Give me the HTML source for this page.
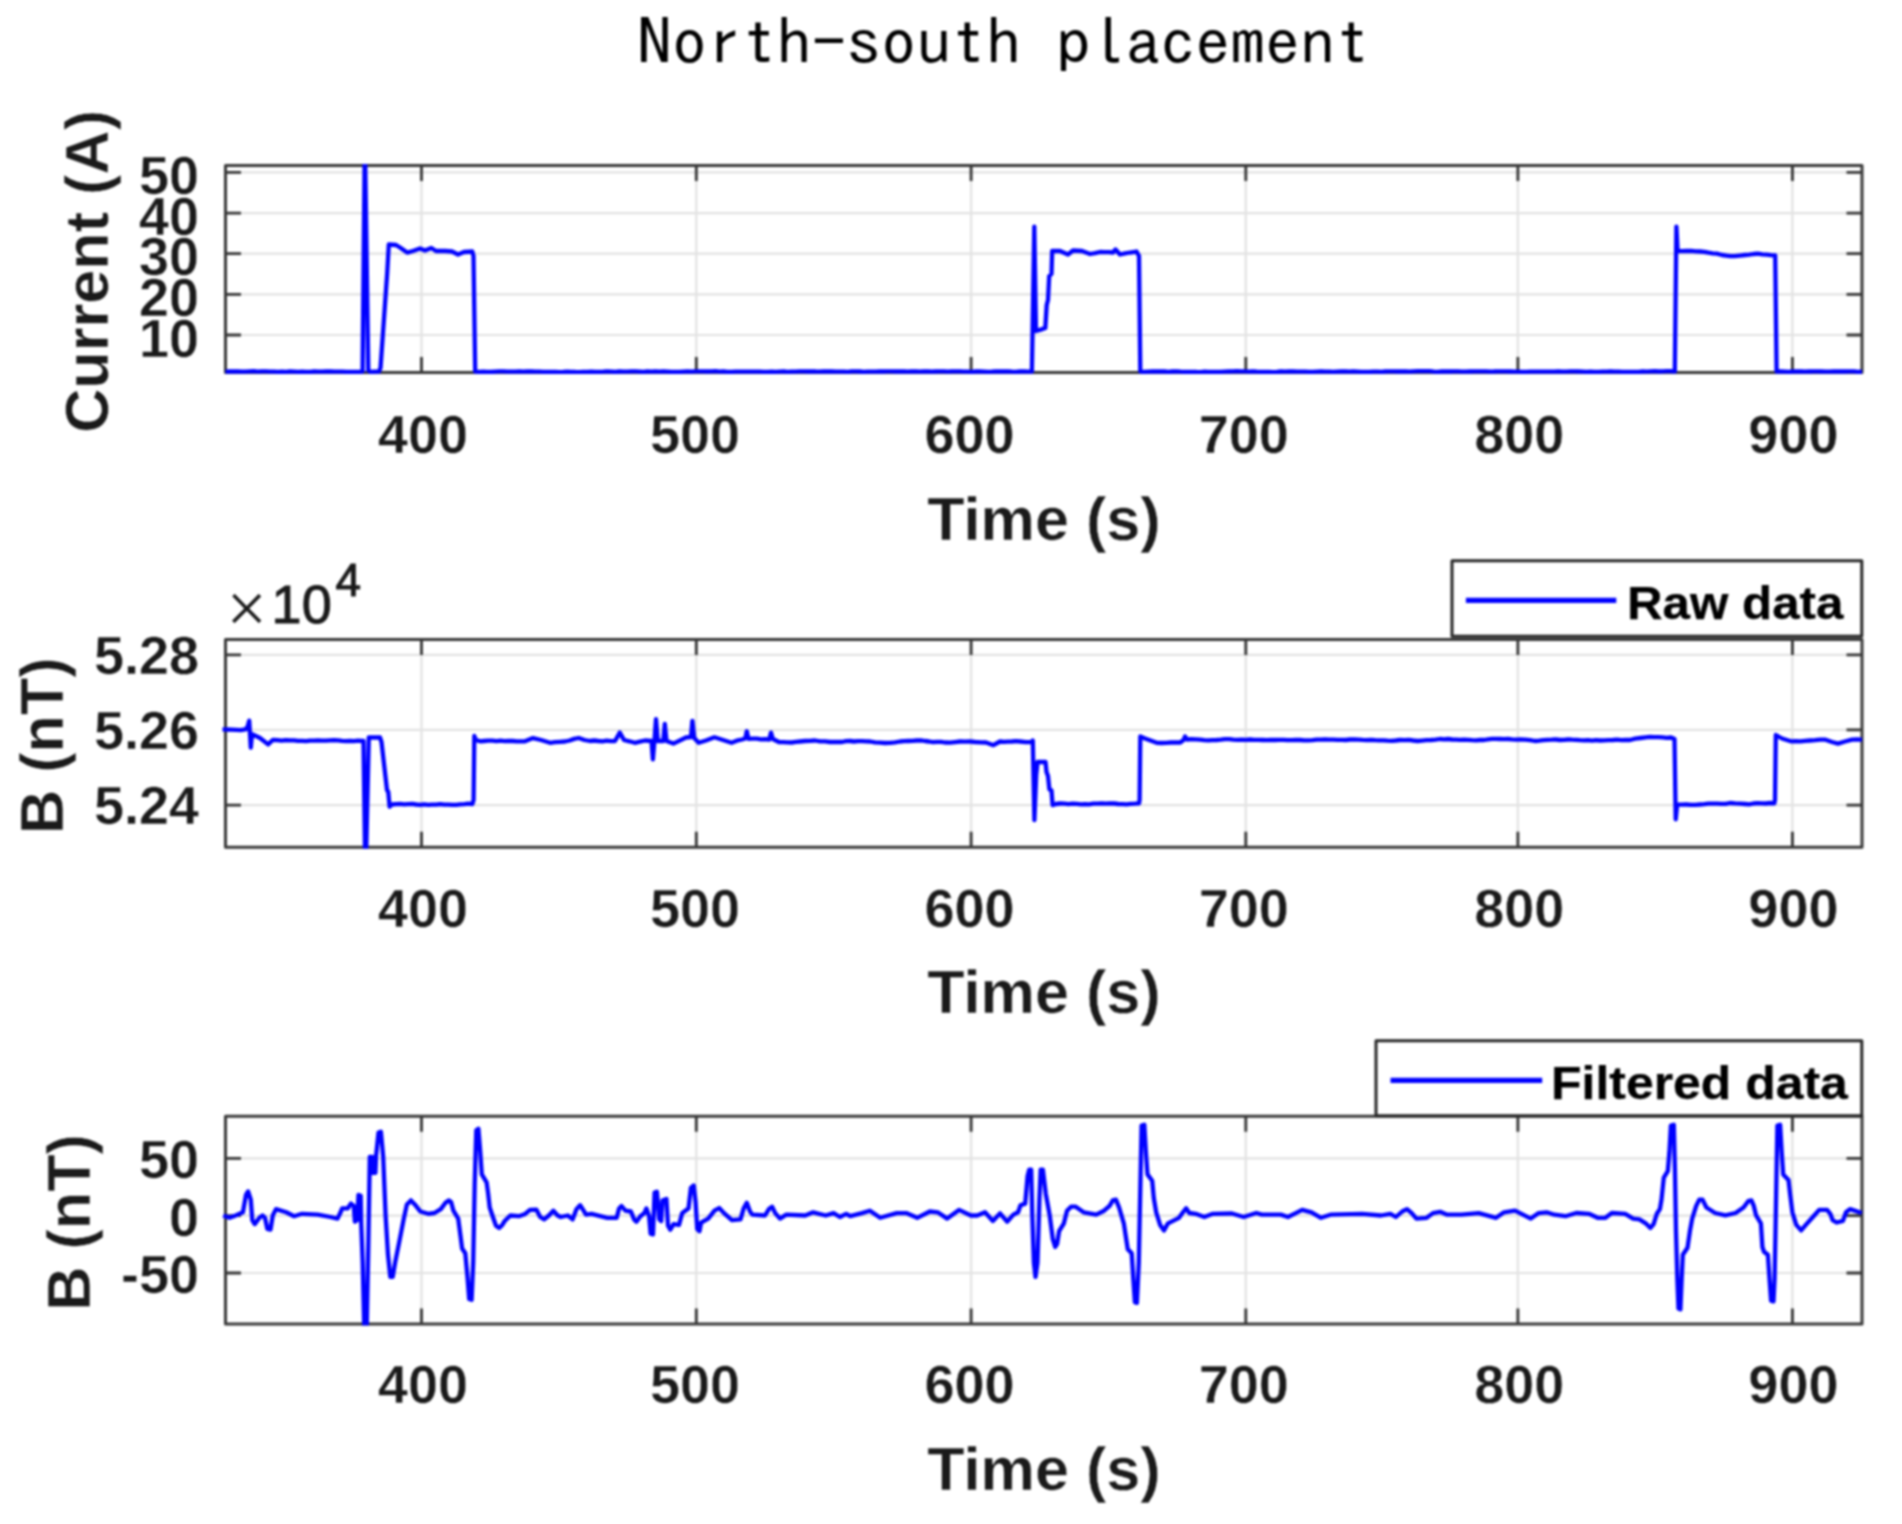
<!DOCTYPE html>
<html lang="en">
<head>
<meta charset="utf-8">
<title>North-south placement</title>
<style>
html,body{margin:0;padding:0;background:#ffffff;}
body{width:1902px;height:1524px;overflow:hidden;}
svg{display:block;font-family:"Liberation Sans", sans-serif;filter:blur(0.9px);}
svg text{font-family:"Liberation Sans", sans-serif;}
svg text.t{stroke:#ffffff;stroke-width:0.5px;}
</style>
</head>
<body>
<svg width="1902" height="1524" viewBox="0 0 1902 1524">
<defs>
<clipPath id="c0"><rect x="219.5" y="164.1" width="1644.0" height="209.79999999999998"/></clipPath>
<clipPath id="c1"><rect x="219.5" y="637.9" width="1644.0" height="210.89999999999998"/></clipPath>
<clipPath id="c2"><rect x="219.5" y="1114.8" width="1644.0" height="210.70000000000005"/></clipPath>
</defs>
<rect width="1902" height="1524" fill="#ffffff"/>
<path d="M421.5 165.6V372.4M696.3 165.6V372.4M971.1 165.6V372.4M1245.8 165.6V372.4M1517.9 165.6V372.4M1792.4 165.6V372.4M225.5 172.4H1862.0M225.5 213.1H1862.0M225.5 253.7H1862.0M225.5 294.4H1862.0M225.5 335.0H1862.0" stroke="#e2e2e2" stroke-width="2.2" fill="none"/>
<path d="M421.5 372.4v-15.5M421.5 165.6v15.5M696.3 372.4v-15.5M696.3 165.6v15.5M971.1 372.4v-15.5M971.1 165.6v15.5M1245.8 372.4v-15.5M1245.8 165.6v15.5M1517.9 372.4v-15.5M1517.9 165.6v15.5M1792.4 372.4v-15.5M1792.4 165.6v15.5M225.5 172.4h15.5M1862.0 172.4h-15.5M225.5 213.1h15.5M1862.0 213.1h-15.5M225.5 253.7h15.5M1862.0 253.7h-15.5M225.5 294.4h15.5M1862.0 294.4h-15.5M225.5 335.0h15.5M1862.0 335.0h-15.5" stroke="#333333" stroke-width="2.8" fill="none"/>
<rect x="225.5" y="165.6" width="1636.5" height="206.8" fill="none" stroke="#383838" stroke-width="3.0" stroke-linejoin="round"/>
<path d="M421.5 639.4V847.3M696.3 639.4V847.3M971.1 639.4V847.3M1245.8 639.4V847.3M1517.9 639.4V847.3M1792.4 639.4V847.3M225.5 654.9H1862.0M225.5 729.8H1862.0M225.5 805.1H1862.0" stroke="#e2e2e2" stroke-width="2.2" fill="none"/>
<path d="M421.5 847.3v-15.5M421.5 639.4v15.5M696.3 847.3v-15.5M696.3 639.4v15.5M971.1 847.3v-15.5M971.1 639.4v15.5M1245.8 847.3v-15.5M1245.8 639.4v15.5M1517.9 847.3v-15.5M1517.9 639.4v15.5M1792.4 847.3v-15.5M1792.4 639.4v15.5M225.5 654.9h15.5M1862.0 654.9h-15.5M225.5 729.8h15.5M1862.0 729.8h-15.5M225.5 805.1h15.5M1862.0 805.1h-15.5" stroke="#333333" stroke-width="2.8" fill="none"/>
<rect x="225.5" y="639.4" width="1636.5" height="207.9" fill="none" stroke="#383838" stroke-width="3.0" stroke-linejoin="round"/>
<path d="M421.5 1116.3V1324.0M696.3 1116.3V1324.0M971.1 1116.3V1324.0M1245.8 1116.3V1324.0M1517.9 1116.3V1324.0M1792.4 1116.3V1324.0M225.5 1158.4H1862.0M225.5 1215.6H1862.0M225.5 1273.0H1862.0" stroke="#e2e2e2" stroke-width="2.2" fill="none"/>
<path d="M421.5 1324.0v-15.5M421.5 1116.3v15.5M696.3 1324.0v-15.5M696.3 1116.3v15.5M971.1 1324.0v-15.5M971.1 1116.3v15.5M1245.8 1324.0v-15.5M1245.8 1116.3v15.5M1517.9 1324.0v-15.5M1517.9 1116.3v15.5M1792.4 1324.0v-15.5M1792.4 1116.3v15.5M225.5 1158.4h15.5M1862.0 1158.4h-15.5M225.5 1215.6h15.5M1862.0 1215.6h-15.5M225.5 1273.0h15.5M1862.0 1273.0h-15.5" stroke="#333333" stroke-width="2.8" fill="none"/>
<rect x="225.5" y="1116.3" width="1636.5" height="207.7" fill="none" stroke="#383838" stroke-width="3.0" stroke-linejoin="round"/>
<polyline points="225.5,371.6 229.5,371.5 233.6,371.5 237.6,371.5 241.6,371.6 245.7,371.7 249.7,371.4 253.7,371.2 257.8,371.6 261.8,371.4 265.8,371.4 269.9,371.7 273.9,371.7 277.9,371.8 282.0,371.7 286.0,371.8 290.0,371.5 294.1,371.6 298.1,371.8 302.1,371.7 306.1,371.8 310.2,371.8 314.2,371.5 318.2,371.7 322.3,371.7 326.3,371.5 330.3,371.3 334.4,371.6 338.4,371.6 342.4,371.7 346.5,371.9 350.5,371.9 354.5,372.0 358.6,371.8 362.6,371.6 364.6,160.0 365.2,160.0 368.3,370.5 370.5,371.8 379.0,371.5 380.5,368.0 387.2,273.0 388.8,244.5 396.0,245.0 400.0,247.5 407.2,252.6 413.0,251.0 420.0,248.5 425.0,250.5 431.3,248.0 436.0,251.0 445.0,251.0 452.0,251.5 458.0,254.5 464.0,252.0 472.3,251.5 473.5,256.0 475.2,371.6 479.2,371.8 483.2,371.7 487.2,371.9 491.2,372.0 495.2,371.6 499.2,371.4 503.2,371.3 507.2,371.7 511.2,371.6 515.3,371.7 519.3,371.5 523.3,371.6 527.3,371.5 531.3,371.5 535.3,371.6 539.3,371.6 543.3,371.8 547.3,371.8 551.3,372.0 555.3,372.0 559.3,372.1 563.3,372.0 567.3,371.7 571.3,371.8 575.3,372.0 579.3,372.1 583.3,371.9 587.3,371.9 591.3,371.6 595.4,371.8 599.4,371.8 603.4,371.6 607.4,371.3 611.4,371.6 615.4,371.9 619.4,371.5 623.4,371.7 627.4,371.6 631.4,371.4 635.4,371.4 639.4,371.6 643.4,371.8 647.4,371.5 651.4,371.6 655.4,371.3 659.4,371.6 663.4,371.5 667.4,371.7 671.4,372.0 675.5,371.8 679.5,372.0 683.5,371.7 687.5,371.4 691.5,371.6 695.5,371.3 699.5,371.3 703.5,371.3 707.5,371.5 711.5,371.4 715.5,371.2 719.5,371.6 723.5,371.5 727.5,371.8 731.5,371.9 735.5,371.7 739.5,371.7 743.5,371.6 747.5,371.7 751.5,371.7 755.6,371.7 759.6,371.7 763.6,371.9 767.6,371.8 771.6,371.7 775.6,371.8 779.6,371.6 783.6,371.5 787.6,371.8 791.6,371.7 795.6,371.7 799.6,371.4 803.6,371.4 807.6,371.5 811.6,371.3 815.6,371.5 819.6,371.6 823.6,371.4 827.6,371.5 831.6,371.5 835.7,371.7 839.7,371.6 843.7,371.7 847.7,371.8 851.7,371.4 855.7,371.3 859.7,371.5 863.7,371.8 867.7,371.6 871.7,371.6 875.7,371.6 879.7,371.5 883.7,371.5 887.7,371.4 891.7,371.4 895.7,371.5 899.7,371.5 903.7,371.4 907.7,371.7 911.7,371.4 915.8,371.5 919.8,371.7 923.8,371.5 927.8,371.4 931.8,371.7 935.8,371.5 939.8,371.4 943.8,371.4 947.8,371.6 951.8,371.4 955.8,371.4 959.8,371.4 963.8,371.6 967.8,371.6 971.8,371.8 975.8,371.5 979.8,371.5 983.8,371.6 987.8,371.8 991.8,371.7 995.9,371.5 999.9,371.3 1003.9,371.5 1007.9,371.3 1011.9,371.6 1015.9,371.8 1019.9,371.5 1023.9,371.4 1027.9,371.7 1031.9,371.6 1034.3,226.6 1036.0,331.0 1040.7,329.6 1045.3,328.0 1046.7,305.0 1048.0,300.0 1049.2,276.0 1051.5,274.0 1052.2,250.8 1060.0,251.0 1068.0,254.5 1073.0,250.5 1082.0,251.0 1090.0,254.0 1095.0,253.2 1100.0,252.0 1104.3,252.1 1108.7,252.1 1113.0,252.5 1115.5,249.5 1120.0,254.5 1125.0,253.4 1130.0,252.5 1136.5,251.5 1139.0,256.0 1140.3,371.6 1144.3,371.8 1148.3,371.6 1152.4,371.5 1156.4,371.5 1160.4,371.5 1164.4,371.5 1168.4,371.8 1172.5,371.5 1176.5,371.3 1180.5,371.6 1184.5,371.8 1188.5,372.0 1192.5,371.8 1196.6,372.0 1200.6,372.1 1204.6,371.7 1208.6,371.8 1212.6,371.9 1216.7,371.9 1220.7,371.8 1224.7,371.6 1228.7,371.5 1232.7,371.4 1236.8,371.2 1240.8,371.4 1244.8,371.4 1248.8,371.6 1252.8,371.4 1256.8,371.7 1260.9,371.8 1264.9,371.9 1268.9,372.0 1272.9,372.1 1276.9,371.9 1281.0,371.5 1285.0,371.7 1289.0,371.5 1293.0,371.4 1297.0,371.6 1301.1,371.6 1305.1,371.6 1309.1,371.8 1313.1,371.8 1317.1,371.6 1321.1,371.5 1325.2,371.7 1329.2,371.7 1333.2,371.8 1337.2,371.6 1341.2,371.5 1345.3,371.5 1349.3,371.7 1353.3,371.5 1357.3,371.7 1361.3,371.9 1365.4,371.9 1369.4,372.0 1373.4,371.6 1377.4,371.6 1381.4,371.8 1385.4,371.5 1389.5,371.4 1393.5,371.4 1397.5,371.5 1401.5,371.5 1405.5,371.5 1409.6,371.7 1413.6,371.4 1417.6,371.2 1421.6,371.2 1425.6,371.1 1429.7,371.1 1433.7,371.6 1437.7,371.8 1441.7,371.5 1445.7,371.5 1449.7,371.5 1453.8,371.4 1457.8,371.4 1461.8,371.6 1465.8,371.6 1469.8,371.5 1473.9,371.4 1477.9,371.4 1481.9,371.3 1485.9,371.4 1489.9,371.6 1494.0,371.5 1498.0,371.3 1502.0,371.3 1506.0,371.3 1510.0,371.5 1514.0,371.7 1518.1,371.6 1522.1,371.8 1526.1,371.8 1530.1,371.7 1534.1,371.6 1538.2,371.6 1542.2,371.7 1546.2,371.6 1550.2,371.7 1554.2,371.6 1558.3,371.5 1562.3,371.6 1566.3,371.7 1570.3,371.4 1574.3,371.4 1578.3,371.5 1582.4,371.7 1586.4,371.9 1590.4,371.7 1594.4,371.9 1598.4,371.9 1602.5,371.7 1606.5,371.6 1610.5,371.4 1614.5,371.7 1618.5,371.7 1622.6,371.9 1626.6,371.9 1630.6,371.9 1634.6,371.9 1638.6,371.8 1642.6,371.5 1646.7,371.6 1650.7,371.3 1654.7,371.2 1658.7,371.5 1662.7,371.3 1666.8,371.2 1670.8,371.1 1674.8,371.6 1676.4,226.6 1677.6,250.8 1682.1,251.2 1686.6,251.0 1691.0,250.9 1695.5,251.4 1700.0,251.5 1704.2,251.8 1708.4,252.7 1712.6,253.3 1716.8,253.7 1722.0,255.0 1726.2,255.6 1730.3,256.1 1734.5,256.1 1739.8,255.6 1745.0,255.0 1749.3,254.7 1753.7,254.0 1758.0,253.7 1762.3,254.3 1766.6,254.7 1770.9,255.2 1775.2,255.5 1776.6,371.6 1780.7,371.4 1784.7,371.6 1788.8,371.8 1792.9,371.5 1796.9,371.4 1801.0,371.5 1805.1,371.7 1809.1,371.5 1813.2,371.4 1817.3,371.3 1821.3,371.5 1825.4,371.7 1829.5,371.6 1833.5,371.5 1837.6,371.5 1841.7,371.5 1845.7,371.5 1849.8,371.3 1853.9,371.4 1857.9,371.8 1862.0,371.6" fill="none" stroke="#0000ff" stroke-width="4.3" stroke-linejoin="round" stroke-linecap="butt" clip-path="url(#c0)"/>
<polyline points="222.5,729.4 227.0,729.5 231.6,729.7 236.1,729.9 240.7,730.1 245.2,729.4 247.5,727.0 249.2,720.7 250.8,747.5 252.0,734.1 260.0,738.0 268.1,744.4 273.0,739.8 277.2,740.2 281.5,740.6 285.8,740.1 290.0,740.4 294.0,740.4 298.0,740.9 302.0,740.9 306.0,741.2 310.0,740.6 314.0,740.6 318.0,740.4 322.0,740.6 326.0,740.7 330.0,740.3 334.0,740.2 338.0,740.3 342.0,740.9 346.0,741.2 350.0,740.8 354.0,741.1 358.0,740.7 362.0,741.0 363.5,741.0 365.0,852.0 366.2,852.0 368.8,737.3 374.4,737.5 380.0,737.5 381.5,742.0 387.0,790.0 388.3,792.0 389.6,806.7 392.0,804.5 396.0,804.1 400.0,803.8 404.1,804.4 408.1,804.1 412.1,803.9 416.1,804.5 420.1,804.8 424.2,804.4 428.2,804.8 432.2,804.6 436.2,804.6 440.2,804.1 444.3,804.6 448.3,804.6 452.3,804.8 456.3,804.9 460.3,804.4 464.4,804.1 468.4,803.7 472.4,804.0 473.6,800.0 474.3,736.0 476.0,740.0 480.0,741.3 484.1,741.0 488.2,740.7 492.3,740.7 496.4,741.1 500.5,740.7 504.5,741.1 508.6,741.0 512.7,741.0 516.8,741.4 520.9,741.3 525.0,741.3 533.0,738.1 541.0,740.0 550.0,742.8 555.0,742.2 560.0,741.8 565.0,741.5 569.6,740.5 574.2,738.9 578.8,738.0 584.4,740.0 590.0,741.0 594.2,740.5 598.3,741.0 602.5,741.3 606.7,740.7 610.8,741.1 615.0,741.0 619.8,732.6 624.0,740.0 629.4,741.3 634.8,742.8 639.9,741.7 645.0,740.5 651.5,741.0 652.9,759.4 654.5,740.0 656.0,719.2 657.8,741.0 663.3,741.0 664.8,723.9 666.5,741.0 673.4,743.6 686.0,737.5 691.0,737.0 692.4,720.8 694.2,738.0 698.7,742.8 706.0,740.5 714.4,737.3 723.0,740.0 731.5,742.8 736.8,740.7 742.0,739.5 745.3,738.5 746.8,731.3 748.5,738.9 752.7,738.6 756.8,738.6 761.0,739.4 765.1,739.1 769.3,739.5 771.0,732.6 772.8,739.0 778.9,742.0 783.1,742.1 787.3,742.4 791.6,742.5 795.8,741.9 800.0,741.5 805.0,741.0 810.0,740.8 815.0,740.5 820.0,741.3 825.0,741.3 830.0,742.0 834.0,742.0 838.0,742.0 842.0,742.0 846.0,741.1 850.0,741.0 854.0,741.5 858.0,741.1 862.0,741.1 866.0,741.4 870.0,741.5 875.0,742.4 880.0,742.6 885.0,743.0 890.0,742.9 895.0,742.3 900.0,741.5 904.2,741.2 908.3,741.0 912.5,740.8 916.7,740.5 920.8,740.3 925.0,741.0 929.0,741.5 933.0,742.2 937.0,741.9 941.0,741.8 945.0,742.5 950.0,742.6 955.0,742.1 960.0,741.5 965.0,741.6 970.0,741.5 975.0,742.0 980.5,742.3 986.0,742.5 993.4,745.2 1000.0,741.5 1004.0,741.8 1008.0,741.6 1012.0,741.5 1016.0,741.1 1020.0,741.5 1025.8,742.1 1031.5,742.0 1032.8,740.5 1034.4,820.1 1036.2,775.0 1037.6,761.8 1045.5,762.0 1046.5,772.0 1048.0,776.0 1049.4,789.4 1051.5,790.5 1052.6,805.1 1056.0,804.0 1060.2,803.5 1064.3,803.7 1068.5,804.1 1072.6,803.6 1076.8,803.9 1080.9,804.3 1085.0,804.2 1089.2,804.3 1093.3,803.7 1097.5,803.6 1101.7,803.3 1105.8,803.7 1110.0,803.5 1114.1,803.5 1118.2,804.0 1122.4,804.1 1126.5,804.3 1130.7,803.9 1134.8,803.7 1139.0,803.4 1139.6,800.0 1140.3,736.5 1145.0,738.5 1156.7,742.8 1161.4,743.0 1166.1,742.8 1170.9,742.5 1175.6,742.4 1180.3,742.5 1183.5,740.0 1185.0,736.5 1187.0,739.5 1191.3,739.2 1195.7,739.3 1200.0,739.7 1204.2,740.2 1208.3,740.4 1212.5,740.2 1216.7,740.0 1220.8,739.7 1225.0,739.2 1229.2,739.1 1233.3,739.6 1237.5,739.9 1241.7,739.6 1245.8,739.8 1250.0,739.5 1254.2,739.8 1258.3,739.9 1262.5,740.0 1266.7,740.1 1270.8,739.9 1275.0,740.0 1279.2,739.8 1283.3,739.8 1287.5,740.1 1291.7,740.2 1295.8,740.0 1300.0,740.0 1304.2,740.4 1308.3,740.3 1312.5,740.2 1316.7,739.6 1320.8,739.7 1325.0,739.4 1329.2,739.7 1333.3,739.6 1337.5,739.9 1341.7,739.9 1345.8,740.0 1350.0,739.5 1354.2,739.4 1358.3,739.6 1362.5,739.9 1366.7,740.1 1370.8,739.8 1375.0,740.2 1379.2,740.4 1383.3,740.4 1387.5,740.7 1391.7,740.8 1395.8,740.5 1400.0,740.0 1404.4,740.1 1408.8,739.9 1413.2,740.5 1417.6,741.0 1422.0,740.6 1426.5,740.2 1431.0,740.0 1435.5,739.7 1440.0,739.0 1444.0,739.3 1448.0,739.0 1452.0,739.5 1456.0,739.6 1460.0,739.8 1464.0,739.7 1468.0,739.9 1472.0,740.2 1476.0,740.3 1480.0,740.0 1484.0,740.0 1488.0,739.3 1492.0,738.9 1496.0,738.8 1500.0,739.0 1504.0,739.2 1508.0,739.0 1512.0,739.4 1516.0,739.6 1520.0,739.5 1525.0,739.6 1530.0,740.2 1535.0,741.0 1539.2,740.6 1543.3,740.1 1547.5,739.8 1551.7,739.7 1555.8,739.5 1560.0,740.0 1564.0,739.8 1568.0,739.5 1572.0,739.7 1576.0,739.8 1580.0,740.1 1584.0,740.3 1588.0,740.1 1592.0,740.6 1596.0,740.1 1600.0,740.5 1604.3,740.3 1608.6,740.1 1612.9,740.0 1617.1,739.7 1621.4,740.2 1625.7,740.0 1630.0,740.0 1635.2,738.7 1640.5,738.0 1645.7,737.3 1649.9,736.9 1654.1,737.2 1658.3,737.1 1662.6,737.4 1666.8,737.9 1671.0,737.5 1674.5,739.0 1675.7,819.3 1677.2,804.4 1681.8,804.7 1686.3,804.5 1690.9,804.8 1695.4,804.8 1700.0,804.5 1704.3,804.2 1708.6,803.7 1712.9,803.7 1717.1,803.6 1721.4,803.8 1725.7,803.9 1730.0,803.0 1735.0,803.4 1740.0,803.6 1745.0,804.0 1749.2,804.3 1753.4,803.5 1757.6,803.2 1761.7,803.3 1765.9,803.5 1770.1,803.0 1774.3,803.3 1775.0,800.0 1775.8,735.0 1782.0,738.5 1790.8,741.3 1795.6,741.2 1800.4,741.4 1805.2,740.9 1810.0,740.5 1815.2,740.2 1820.3,739.7 1825.5,739.7 1832.0,742.0 1838.0,743.6 1845.0,741.5 1852.0,739.7 1857.0,739.5 1862.0,739.7" fill="none" stroke="#0000ff" stroke-width="4.3" stroke-linejoin="round" stroke-linecap="butt" clip-path="url(#c1)"/>
<polyline points="223.2,1215.4 229.5,1217.8 235.8,1215.4 242.9,1212.3 246.0,1194.9 248.1,1191.4 250.8,1199.6 252.3,1220.1 254.7,1224.1 259.4,1217.8 262.6,1215.4 265.0,1217.8 267.3,1228.8 270.5,1229.6 272.8,1215.4 276.0,1209.1 286.2,1212.3 294.1,1216.2 302.0,1213.8 317.8,1214.6 330.4,1217.0 337.5,1218.6 339.9,1213.8 342.2,1208.3 347.8,1208.3 350.9,1203.6 353.8,1205.9 354.9,1221.7 357.2,1220.1 358.5,1194.9 360.7,1195.7 361.2,1223.3 362.7,1262.7 364.3,1330.0 366.7,1330.0 368.3,1247.0 369.8,1157.0 372.2,1157.0 372.7,1172.8 375.4,1172.8 376.1,1155.5 378.5,1132.6 380.9,1131.8 383.2,1157.0 385.6,1215.4 388.0,1254.8 390.3,1276.9 392.7,1276.9 395.1,1262.7 399.8,1239.1 403.8,1218.6 406.9,1204.4 410.9,1200.4 414.8,1204.4 420.3,1211.5 428.2,1213.8 434.5,1213.0 440.8,1209.1 445.5,1202.8 448.7,1200.4 451.1,1202.0 453.4,1210.7 458.2,1218.6 460.5,1235.9 462.1,1248.5 465.3,1253.3 467.6,1278.5 469.2,1299.0 471.6,1299.8 473.2,1262.7 474.7,1183.9 476.3,1130.2 478.4,1128.7 480.3,1152.3 481.8,1174.4 486.6,1182.3 488.1,1193.3 489.7,1207.5 492.9,1217.0 496.0,1225.7 499.2,1228.0 502.3,1224.9 504.7,1221.0 510.3,1215.5 518.9,1216.2 525.2,1213.9 530.0,1209.9 536.3,1209.6 540.2,1217.0 544.2,1219.4 548.9,1215.5 553.3,1210.7 557.6,1215.5 560.7,1217.0 567.8,1215.5 572.6,1219.4 576.5,1209.1 580.1,1205.2 583.6,1210.7 586.0,1214.7 591.5,1213.9 607.3,1217.8 616.7,1217.8 619.1,1208.4 621.5,1206.0 625.4,1210.7 630.9,1211.5 634.1,1219.4 636.4,1221.8 640.4,1216.2 644.3,1213.1 646.4,1208.4 649.1,1216.2 650.6,1233.6 653.0,1234.4 654.6,1192.6 656.9,1191.8 659.3,1219.4 661.2,1221.0 662.5,1200.5 666.4,1198.9 668.0,1225.7 670.3,1229.7 673.5,1224.1 679.0,1224.9 682.2,1213.1 685.3,1210.7 688.5,1208.4 690.9,1187.9 693.7,1185.5 695.6,1202.1 697.2,1228.9 699.5,1231.2 701.1,1222.6 708.2,1218.6 714.5,1210.7 719.2,1208.0 724.0,1213.1 731.9,1220.2 740.5,1219.4 743.7,1208.4 746.8,1202.8 750.0,1211.5 752.4,1214.7 765.0,1215.5 768.9,1209.1 772.1,1206.8 775.2,1213.1 780.0,1218.6 786.3,1214.7 805.2,1215.5 813.1,1212.3 825.7,1215.5 833.6,1213.1 839.9,1217.0 846.2,1213.9 850.2,1216.2 862.0,1213.1 869.9,1210.7 880.2,1217.8 896.7,1213.1 906.2,1213.1 917.2,1217.8 929.8,1211.5 937.7,1212.3 947.2,1218.6 959.0,1209.9 970.9,1215.5 977.2,1215.5 985.0,1212.3 992.9,1221.0 1000.0,1213.4 1007.1,1221.7 1013.4,1214.6 1018.1,1212.3 1020.5,1205.2 1025.2,1203.6 1027.6,1176.0 1029.2,1169.7 1031.2,1169.7 1032.3,1215.4 1033.9,1262.7 1035.5,1276.9 1037.5,1262.7 1039.4,1199.6 1040.7,1169.7 1042.9,1169.7 1045.7,1193.3 1049.7,1215.4 1052.8,1239.1 1055.2,1247.0 1057.1,1243.8 1059.1,1231.2 1063.9,1223.3 1067.0,1210.7 1071.0,1206.7 1075.7,1206.7 1083.6,1212.3 1096.2,1214.6 1104.1,1210.7 1109.6,1205.9 1112.8,1200.4 1115.9,1199.6 1119.1,1207.5 1123.8,1223.3 1126.2,1239.1 1127.8,1249.3 1131.7,1253.3 1133.3,1278.5 1134.9,1302.2 1136.9,1302.9 1138.8,1262.7 1140.4,1183.9 1141.6,1125.5 1144.3,1124.7 1145.9,1152.3 1147.5,1174.4 1152.2,1180.7 1153.8,1198.1 1156.2,1212.3 1160.1,1224.9 1164.0,1230.4 1168.0,1223.3 1179.0,1217.8 1183.0,1212.3 1186.1,1208.3 1189.3,1213.0 1195.6,1213.8 1204.3,1217.0 1212.9,1213.8 1231.9,1213.5 1243.7,1217.0 1256.3,1213.0 1261.8,1214.6 1280.8,1214.6 1287.9,1217.0 1295.8,1213.1 1302.1,1209.9 1311.5,1212.3 1321.0,1217.8 1330.5,1214.7 1362.0,1213.9 1380.9,1215.5 1390.4,1213.9 1395.9,1217.0 1402.2,1211.5 1407.0,1209.1 1411.7,1213.1 1416.4,1218.6 1426.7,1217.8 1433.0,1213.1 1440.1,1211.8 1447.2,1214.7 1461.4,1214.7 1478.7,1213.1 1496.1,1217.8 1504.0,1212.3 1515.0,1210.7 1522.9,1214.7 1530.8,1218.6 1538.7,1213.1 1546.6,1212.3 1554.4,1214.7 1565.5,1216.2 1576.3,1213.0 1588.9,1213.8 1597.6,1217.8 1605.5,1217.8 1611.8,1213.0 1625.2,1213.8 1633.1,1218.6 1639.4,1219.4 1645.7,1223.3 1650.4,1228.0 1653.6,1224.1 1656.8,1213.8 1659.9,1209.1 1661.5,1199.6 1663.8,1177.6 1667.8,1171.2 1669.4,1152.3 1670.9,1125.5 1673.8,1124.7 1674.9,1168.1 1676.0,1231.2 1677.3,1278.5 1678.5,1308.5 1680.4,1309.3 1681.7,1278.5 1682.8,1254.8 1687.5,1247.7 1689.9,1231.2 1692.2,1218.6 1696.2,1205.9 1699.3,1199.6 1702.5,1199.6 1706.4,1207.5 1715.1,1213.0 1725.4,1215.4 1735.6,1213.0 1743.5,1207.5 1748.2,1201.2 1751.4,1200.4 1753.8,1205.9 1756.1,1215.4 1760.9,1223.3 1762.4,1247.0 1764.0,1251.7 1767.9,1254.8 1769.5,1278.5 1771.1,1300.6 1773.5,1301.4 1774.6,1278.5 1775.5,1231.2 1776.6,1168.1 1777.4,1125.5 1780.1,1124.7 1781.7,1152.3 1783.2,1174.4 1788.5,1179.9 1790.0,1193.3 1792.4,1212.3 1796.3,1224.9 1801.1,1230.4 1805.8,1224.9 1812.9,1217.0 1819.2,1209.9 1827.1,1209.9 1830.3,1213.8 1832.6,1220.1 1836.6,1222.5 1842.9,1220.9 1846.0,1212.3 1850.0,1209.1 1861.8,1213.0" fill="none" stroke="#0000ff" stroke-width="4.3" stroke-linejoin="round" stroke-linecap="butt" clip-path="url(#c2)"/>
<rect x="1452.0" y="560.8" width="409.8" height="75.4" fill="#ffffff" stroke="#262626" stroke-width="3.0" stroke-linejoin="round"/>
<path d="M1465.9 600.3H1616.3" stroke="#0000ff" stroke-width="5.2"/>
<text x="1626.9" y="619.3" font-size="45.3" font-weight="700" fill="#000000" stroke="#000000" stroke-width="0.25" textLength="216.6" lengthAdjust="spacingAndGlyphs">Raw data</text>
<rect x="1376.0" y="1040.8" width="485.8" height="75.0" fill="#ffffff" stroke="#262626" stroke-width="3.0" stroke-linejoin="round"/>
<path d="M1390.5 1080.3H1542.2" stroke="#0000ff" stroke-width="5.2"/>
<text x="1551.1" y="1099.4" font-size="45.3" font-weight="700" fill="#000000" stroke="#000000" stroke-width="0.25" textLength="296.7" lengthAdjust="spacingAndGlyphs">Filtered data</text>
<text class="t" x="423.1" y="453.0" font-size="54" font-weight="700" text-anchor="middle" fill="#1a1a1a">400</text>
<text class="t" x="695.1" y="453.0" font-size="54" font-weight="700" text-anchor="middle" fill="#1a1a1a">500</text>
<text class="t" x="969.5" y="453.0" font-size="54" font-weight="700" text-anchor="middle" fill="#1a1a1a">600</text>
<text class="t" x="1243.7" y="453.0" font-size="54" font-weight="700" text-anchor="middle" fill="#1a1a1a">700</text>
<text class="t" x="1519.2" y="453.0" font-size="54" font-weight="700" text-anchor="middle" fill="#1a1a1a">800</text>
<text class="t" x="1793.4" y="453.0" font-size="54" font-weight="700" text-anchor="middle" fill="#1a1a1a">900</text>
<text class="t" x="423.1" y="926.5" font-size="54" font-weight="700" text-anchor="middle" fill="#1a1a1a">400</text>
<text class="t" x="695.1" y="926.5" font-size="54" font-weight="700" text-anchor="middle" fill="#1a1a1a">500</text>
<text class="t" x="969.5" y="926.5" font-size="54" font-weight="700" text-anchor="middle" fill="#1a1a1a">600</text>
<text class="t" x="1243.7" y="926.5" font-size="54" font-weight="700" text-anchor="middle" fill="#1a1a1a">700</text>
<text class="t" x="1519.2" y="926.5" font-size="54" font-weight="700" text-anchor="middle" fill="#1a1a1a">800</text>
<text class="t" x="1793.4" y="926.5" font-size="54" font-weight="700" text-anchor="middle" fill="#1a1a1a">900</text>
<text class="t" x="423.1" y="1403.0" font-size="54" font-weight="700" text-anchor="middle" fill="#1a1a1a">400</text>
<text class="t" x="695.1" y="1403.0" font-size="54" font-weight="700" text-anchor="middle" fill="#1a1a1a">500</text>
<text class="t" x="969.5" y="1403.0" font-size="54" font-weight="700" text-anchor="middle" fill="#1a1a1a">600</text>
<text class="t" x="1243.7" y="1403.0" font-size="54" font-weight="700" text-anchor="middle" fill="#1a1a1a">700</text>
<text class="t" x="1519.2" y="1403.0" font-size="54" font-weight="700" text-anchor="middle" fill="#1a1a1a">800</text>
<text class="t" x="1793.4" y="1403.0" font-size="54" font-weight="700" text-anchor="middle" fill="#1a1a1a">900</text>
<text class="t" x="199.0" y="194.0" font-size="54" font-weight="700" text-anchor="end" fill="#1a1a1a">50</text>
<text class="t" x="199.0" y="234.7" font-size="54" font-weight="700" text-anchor="end" fill="#1a1a1a">40</text>
<text class="t" x="199.0" y="275.3" font-size="54" font-weight="700" text-anchor="end" fill="#1a1a1a">30</text>
<text class="t" x="199.0" y="316.0" font-size="54" font-weight="700" text-anchor="end" fill="#1a1a1a">20</text>
<text class="t" x="199.0" y="356.6" font-size="54" font-weight="700" text-anchor="end" fill="#1a1a1a">10</text>
<text class="t" x="199.0" y="673.9" font-size="54" font-weight="700" text-anchor="end" fill="#1a1a1a">5.28</text>
<text class="t" x="199.0" y="748.8" font-size="54" font-weight="700" text-anchor="end" fill="#1a1a1a">5.26</text>
<text class="t" x="199.0" y="824.1" font-size="54" font-weight="700" text-anchor="end" fill="#1a1a1a">5.24</text>
<text class="t" x="199.0" y="1178.4" font-size="54" font-weight="700" text-anchor="end" fill="#1a1a1a">50</text>
<text class="t" x="199.0" y="1235.6" font-size="54" font-weight="700" text-anchor="end" fill="#1a1a1a">0</text>
<text class="t" x="199.0" y="1293.0" font-size="54" font-weight="700" text-anchor="end" fill="#1a1a1a">-50</text>
<text x="246.6" y="631.7" font-size="70" font-weight="400" text-anchor="middle" fill="#1a1a1a" stroke="#ffffff" stroke-width="1.4">×</text>
<text x="271.6" y="623.2" font-size="54" font-weight="400" fill="#1a1a1a" stroke="#1a1a1a" stroke-width="1.0">10</text>
<text x="335.5" y="595.5" font-size="46" font-weight="400" fill="#1a1a1a" stroke="#1a1a1a" stroke-width="1.0">4</text>
<text class="t" x="1044" y="539.6" font-size="61.2" font-weight="700" text-anchor="middle" fill="#1a1a1a">Time (s)</text>
<text class="t" x="1044" y="1013.0" font-size="61.2" font-weight="700" text-anchor="middle" fill="#1a1a1a">Time (s)</text>
<text class="t" x="1044" y="1489.6" font-size="61.2" font-weight="700" text-anchor="middle" fill="#1a1a1a">Time (s)</text>
<text class="t" transform="translate(108.0 271.4) rotate(-90)" font-size="61.2" font-weight="700" text-anchor="middle" fill="#1a1a1a">Current (A)</text>
<text class="t" transform="translate(62.7 745.6) rotate(-90)" font-size="61.2" font-weight="700" text-anchor="middle" fill="#1a1a1a">B (nT)</text>
<text class="t" transform="translate(90.2 1222.4) rotate(-90)" font-size="61.2" font-weight="700" text-anchor="middle" fill="#1a1a1a">B (nT)</text>
<text x="637" y="65.2" font-size="64" textLength="732.8" lengthAdjust="spacingAndGlyphs" fill="#000000" style="font-family:IPAGothic,'Liberation Mono',monospace">North-south placement</text>
</svg>
</body>
</html>
